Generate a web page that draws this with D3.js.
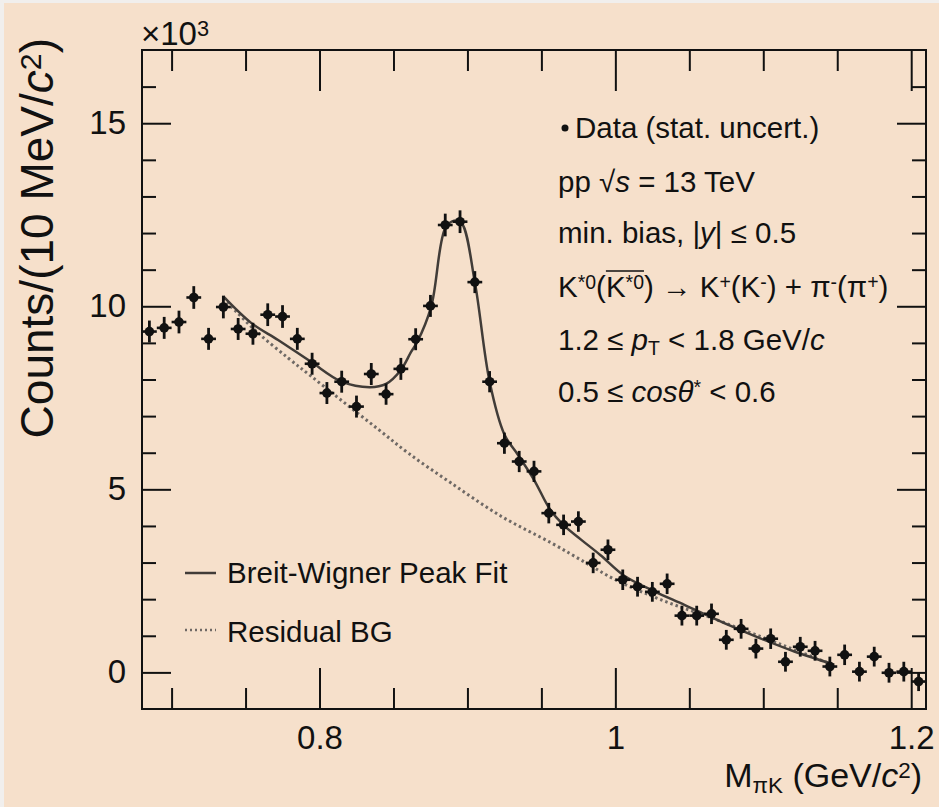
<!DOCTYPE html>
<html>
<head>
<meta charset="utf-8">
<script src="https://cdn.jsdelivr.net/npm/d3@7"></script>
<style>
  html, body { margin: 0; padding: 0; background: #f1efed; }
  svg { display: block; font-family: "Liberation Sans", Arial, Helvetica, sans-serif; }
</style>
</head>
<body>
<svg id="chart" width="939" height="807"></svg>
<script>
// bin centres (GeV/c^2), 10 MeV bins
var massBins = [0.685, 0.695, 0.705, 0.715, 0.725, 0.735, 0.745, 0.755, 0.765, 0.775,
                0.785, 0.795, 0.805, 0.815, 0.825, 0.835, 0.845, 0.855, 0.865, 0.875,
                0.885, 0.895, 0.905, 0.915, 0.925, 0.935, 0.945, 0.955, 0.965, 0.975,
                0.985, 0.995, 1.005, 1.015, 1.025, 1.035, 1.045, 1.055, 1.065, 1.075,
                1.085, 1.095, 1.105, 1.115, 1.125, 1.135, 1.145, 1.155, 1.165, 1.175,
                1.185, 1.195, 1.205];
// counts in units of 10^3
var counts = [9.31, 9.41, 9.57, 10.24, 9.11, 9.98, 9.38, 9.25, 9.77, 9.72,
              9.11, 8.43, 7.63, 7.94, 7.26, 8.15, 7.60, 8.29, 9.10, 10.01,
              12.22, 12.31, 10.66, 7.94, 6.26, 5.76, 5.49, 4.35, 4.03, 4.12,
              2.99, 3.35, 2.53, 2.34, 2.20, 2.42, 1.55, 1.55, 1.60, 0.89,
              1.19, 0.65, 0.92, 0.29, 0.70, 0.59, 0.16, 0.48, 0.02, 0.43,
              -0.01, 0.02, -0.25];
var countErrors = [0.30, 0.30, 0.31, 0.31, 0.30, 0.31, 0.30, 0.30, 0.31, 0.31,
                   0.30, 0.30, 0.30, 0.30, 0.30, 0.30, 0.29, 0.30, 0.30, 0.30,
                   0.31, 0.31, 0.30, 0.29, 0.29, 0.29, 0.29, 0.28, 0.28, 0.28,
                   0.28, 0.28, 0.28, 0.27, 0.27, 0.28, 0.27, 0.27, 0.28, 0.27,
                   0.27, 0.27, 0.28, 0.27, 0.27, 0.27, 0.27, 0.28, 0.27, 0.27,
                   0.27, 0.27, 0.26];

// Breit-Wigner peak fit
var fitMass   = [0.735, 0.754, 0.772, 0.794, 0.815, 0.834, 0.845, 0.855, 0.862, 0.866,
                 0.8755, 0.885, 0.891, 0.896, 0.905, 0.915, 0.925, 0.934, 0.945, 0.956,
                 0.965, 0.977, 0.990, 1.006, 1.026, 1.047, 1.078, 1.098, 1.121, 1.148];
var fitCounts = [10.27, 9.54, 9.08, 8.49, 7.94, 7.79, 7.88, 8.26, 8.76, 9.02,
                 9.99, 12.13, 12.34, 12.28, 10.66, 7.94, 6.50, 5.95, 5.26, 4.44,
                 4.02, 3.62, 3.20, 2.64, 2.22, 1.84, 1.27, 0.93, 0.57, 0.21];

// residual background
var bgMass   = [0.735, 0.756, 0.779, 0.794, 0.817, 0.840, 0.860, 0.889, 0.923, 0.957,
                0.981, 1.000, 1.031, 1.065, 1.098, 1.121, 1.147];
var bgCounts = [10.22, 9.36, 8.58, 8.10, 7.36, 6.63, 5.99, 5.17, 4.26, 3.53,
                2.97, 2.53, 1.98, 1.49, 0.98, 0.62, 0.21];

var xMajorTicks = [0.8, 1, 1.2];
var xMinorTicks = [0.7, 0.75, 0.85, 0.9, 0.95, 1.05, 1.1, 1.15];
var yMajorTicks = [0, 5, 10, 15];
var yMinorTicks = [1, 2, 3, 4, 6, 7, 8, 9, 11, 12, 13, 14, 16];

var svg = d3.select("#chart");
var W = 939, H = 807;
var margin = {left: 142, top: 50, right: 13, bottom: 98};
var innerW = W - margin.left - margin.right,
    innerH = H - margin.top - margin.bottom;

svg.append("rect")
   .attr("x", 4).attr("y", 3)
   .attr("width", W - 4).attr("height", H - 3)
   .attr("fill", "#f6e0cb");

var x = d3.scaleLinear().domain([0.68, 1.21]).range([0, innerW]);
var y = d3.scaleLinear().domain([-1, 17]).range([innerH, 0]);

var g = svg.append("g")
           .attr("transform", "translate(" + margin.left + "," + margin.top + ")");

// axes: ROOT style ticks pointing inward
function styleAxis(sel) {
    sel.select(".domain").remove();
    sel.selectAll("line").attr("stroke", "#111").attr("stroke-width", 2);
    sel.selectAll("text").attr("fill", "#111").attr("font-size", 33)
       .attr("font-family", "'Liberation Sans', Arial, Helvetica, sans-serif");
}

g.append("g").attr("transform", "translate(0," + innerH + ")")
 .call(d3.axisBottom(x).tickValues(xMajorTicks).tickSize(-41).tickPadding(17)
         .tickFormat(d3.format("")))
 .call(styleAxis);
g.append("g").attr("transform", "translate(0," + innerH + ")")
 .call(d3.axisBottom(x).tickValues(xMinorTicks).tickSize(-21).tickFormat(""))
 .call(styleAxis);
g.append("g")
 .call(d3.axisTop(x).tickValues(xMajorTicks).tickSize(-41).tickFormat(""))
 .call(styleAxis);
g.append("g")
 .call(d3.axisTop(x).tickValues(xMinorTicks).tickSize(-21).tickFormat(""))
 .call(styleAxis);

g.append("g")
 .call(d3.axisLeft(y).tickValues(yMajorTicks).tickSize(-29).tickPadding(16)
         .tickFormat(d3.format("")))
 .call(styleAxis);
g.append("g")
 .call(d3.axisLeft(y).tickValues(yMinorTicks).tickSize(-14).tickFormat(""))
 .call(styleAxis);
g.append("g").attr("transform", "translate(" + innerW + ",0)")
 .call(d3.axisRight(y).tickValues(yMajorTicks).tickSize(-29).tickFormat(""))
 .call(styleAxis);
g.append("g").attr("transform", "translate(" + innerW + ",0)")
 .call(d3.axisRight(y).tickValues(yMinorTicks).tickSize(-14).tickFormat(""))
 .call(styleAxis);

// background and fit curves
var bgLine = d3.line()
               .x(function(d, i) { return x(bgMass[i]); })
               .y(function(d) { return y(d); })
               .curve(d3.curveCatmullRom.alpha(0.5));
var fitLine = d3.line()
                .x(function(d, i) { return x(fitMass[i]); })
                .y(function(d) { return y(d); })
                .curve(d3.curveCatmullRom.alpha(0.5));

g.append("path")
 .attr("d", bgLine(bgCounts))
 .attr("fill", "none")
 .attr("stroke", "#6f6965")
 .attr("stroke-width", 3)
 .attr("stroke-dasharray", "2.5,3");

g.append("path")
 .attr("d", fitLine(fitCounts))
 .attr("fill", "none")
 .attr("stroke", "#413c38")
 .attr("stroke-width", 2.5);

// data points with error bars
var pts = g.selectAll(".pt")
           .data(counts)
           .enter()
           .append("g")
           .classed("pt", true);

pts.append("line")
   .attr("x1", function(d, i) { return x(massBins[i]); })
   .attr("x2", function(d, i) { return x(massBins[i]); })
   .attr("y1", function(d, i) { return y(d - countErrors[i]); })
   .attr("y2", function(d, i) { return y(d + countErrors[i]); })
   .attr("stroke", "#111").attr("stroke-width", 2.8);

pts.append("line")
   .attr("x1", function(d, i) { return x(massBins[i] - 0.005); })
   .attr("x2", function(d, i) { return x(massBins[i] + 0.005); })
   .attr("y1", function(d) { return y(d); })
   .attr("y2", function(d) { return y(d); })
   .attr("stroke", "#111").attr("stroke-width", 2.6);

pts.append("circle")
   .attr("cx", function(d, i) { return x(massBins[i]); })
   .attr("cy", function(d) { return y(d); })
   .attr("r", 4.8)
   .attr("fill", "#111");

// frame
g.append("rect")
 .attr("width", innerW).attr("height", innerH)
 .attr("fill", "none").attr("stroke", "#111").attr("stroke-width", 2);

// rich text helper: segments {t, it, sup, sub}
function richText(parent, xPos, yPos, size, anchor, segs) {
    var t = parent.append("text")
                  .attr("x", xPos).attr("y", yPos)
                  .attr("font-size", size)
                  .attr("fill", "#111")
                  .attr("text-anchor", anchor || "start");
    segs.forEach(function(s) {
        var sp = t.append("tspan").text(s.t);
        if (s.it) sp.attr("font-style", "italic");
        if (s.sup) sp.attr("baseline-shift", "40%").attr("font-size", size * 0.66);
        if (s.sub) sp.attr("baseline-shift", "-25%").attr("font-size", size * 0.66);
    });
    return t;
}

// axis titles
richText(svg.append("g").attr("transform", "translate(53,38) rotate(-90)"),
         0, 0, 46, "end",
         [{t: "Counts/(10 MeV/"}, {t: "c", it: true}, {t: "2", sup: true}, {t: ")"}]);

richText(svg, 922, 787, 34, "end",
         [{t: "M"}, {t: "\u03c0K", sub: true}, {t: " (GeV/"}, {t: "c", it: true},
          {t: "2", sup: true}, {t: ")"}]);

richText(svg, 141, 45, 33, "start", [{t: "\u00d710"}, {t: "3", sup: true}]);

// info legend, top right
var info = svg.append("g");
var fs = 29.5;
info.append("circle").attr("cx", 565).attr("cy", 128).attr("r", 3.5).attr("fill", "#111");
richText(info, 575, 138, fs, "start", [{t: "Data (stat. uncert.)"}]);
richText(info, 558, 192, fs, "start",
         [{t: "pp  \u221a"}, {t: "s", it: true}, {t: " = 13 TeV"}]);
richText(info, 558, 243, fs, "start",
         [{t: "min. bias, |"}, {t: "y", it: true}, {t: "| \u2264 0.5"}]);
var decay = richText(info, 558, 297, fs, "start",
         [{t: "K"}, {t: "*0", sup: true}, {t: "("}, {t: "K"}, {t: "*0", sup: true},
          {t: ") \u2192 K"}, {t: "+", sup: true}, {t: "(K"}, {t: "-", sup: true},
          {t: ") + \u03c0"}, {t: "-", sup: true}, {t: "(\u03c0"}, {t: "+", sup: true},
          {t: ")"}]);
richText(info, 558, 350, fs, "start",
         [{t: "1.2 \u2264 "}, {t: "p", it: true}, {t: "T", sub: true},
          {t: " < 1.8 GeV/"}, {t: "c", it: true}]);
richText(info, 558, 402, fs, "start",
         [{t: "0.5 \u2264 "}, {t: "cos\u03b8", it: true}, {t: "*", sup: true},
          {t: " < 0.6"}]);

// bar over the anti-particle K*0 (chars 4..6 of the decay line)
var dNode = decay.node();
var a = dNode.getExtentOfChar(4), b = dNode.getExtentOfChar(6);
info.append("line")
    .attr("x1", a.x).attr("x2", b.x + b.width)
    .attr("y1", a.y + 1).attr("y2", a.y + 1)
    .attr("stroke", "#111").attr("stroke-width", 1.5);

// curve legend, bottom left
var leg = svg.append("g");
leg.append("line").attr("x1", 185).attr("x2", 216).attr("y1", 573).attr("y2", 573)
   .attr("stroke", "#413c38").attr("stroke-width", 2.5);
leg.append("line").attr("x1", 185).attr("x2", 216).attr("y1", 630).attr("y2", 630)
   .attr("stroke", "#6f6965").attr("stroke-width", 2.5).attr("stroke-dasharray", "2,3");
richText(leg, 227, 583, fs, "start", [{t: "Breit-Wigner Peak Fit"}]);
richText(leg, 227, 642, fs, "start", [{t: "Residual BG"}]);
</script>
</body>
</html>
